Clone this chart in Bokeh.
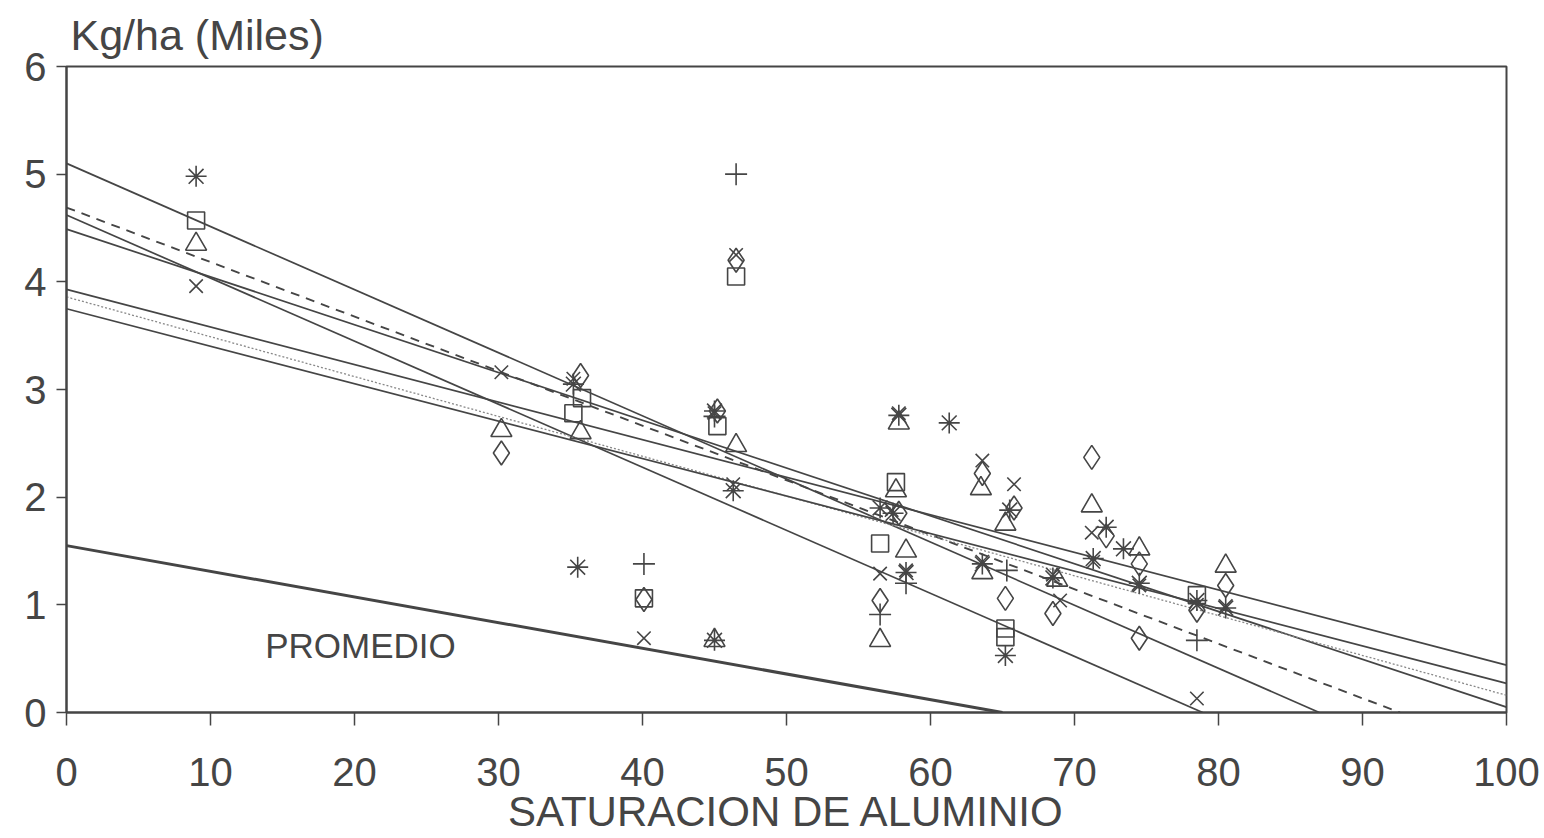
from bokeh.plotting import figure
from bokeh.models import Range1d, Label, FixedTicker
from bokeh.embed import file_html
from bokeh.resources import INLINE

# ---------------- data ----------------
x_ticks = [0, 10, 20, 30, 40, 50, 60, 70, 80, 90, 100]
y_ticks = [0, 1, 2, 3, 4, 5, 6]

ast_x = [9, 35.2, 35.5, 45.0, 45.0, 46.3, 56.5, 57.8, 57.4, 58.3, 61.3, 63.6, 65.5, 65.2, 68.5, 72.2, 71.3, 73.4, 74.5, 78.5, 80.5]
ast_y = [4.98, 3.05, 1.35, 2.80, 0.67, 2.06, 1.90, 2.76, 1.85, 1.30, 2.69, 1.38, 1.88, 0.53, 1.25, 1.72, 1.43, 1.52, 1.20, 1.04, 0.97]

plus_x = [46.5, 40.1, 45.0, 56.5, 58.3, 65.3, 78.5]
plus_y = [5.00, 1.38, 2.75, 0.91, 1.20, 1.32, 0.67]

diam_x = [30.2, 35.7, 40.1, 45.2, 46.5, 56.5, 57.8, 63.6, 65.2, 65.8, 68.5, 71.2, 72.2, 74.5, 74.5, 78.5, 80.5]
diam_y = [2.41, 3.13, 1.05, 2.80, 4.20, 1.04, 1.85, 2.22, 1.06, 1.90, 0.92, 2.37, 1.64, 0.69, 1.38, 0.95, 1.18]

tri_x = [9, 30.2, 35.7, 45.0, 46.5, 56.5, 57.8, 57.6, 58.3, 63.5, 63.6, 65.2, 68.8, 71.2, 74.5, 80.5]
tri_y = [4.35, 2.62, 2.60, 0.67, 2.48, 0.67, 2.69, 2.06, 1.50, 2.08, 1.30, 1.75, 1.23, 1.92, 1.52, 1.36]

sq_x = [9, 35.2, 35.8, 40.1, 45.2, 46.5, 56.5, 57.6, 65.2, 65.2, 78.5]
sq_y = [4.57, 2.78, 2.92, 1.06, 2.66, 4.05, 1.57, 2.14, 0.78, 0.70, 1.09]

xm_x = [9, 30.2, 35.2, 40.1, 45.0, 46.5, 46.3, 56.5, 57.8, 57.3, 58.3, 63.6, 63.6, 65.8, 68.5, 69.0, 71.2, 71.3, 74.5, 78.5, 78.5, 80.5]
xm_y = [3.96, 3.16, 3.10, 0.69, 2.78, 4.25, 2.12, 1.29, 2.78, 1.88, 1.32, 2.34, 1.40, 2.12, 1.28, 1.04, 1.67, 1.40, 1.18, 1.00, 0.13, 0.99]

# regression lines: start (x, y) and end (x, y)
line_x0 = [0, 0, 0, 0, 0, 0, 0, 0]
line_y0 = [5.10, 4.69, 4.62, 4.49, 3.93, 3.86, 3.75, 1.55]
line_x1 = [87.0, 92.6, 78.9, 100, 100, 100, 100, 65.0]
line_y1 = [0, 0, 0, 0.05, 0.44, 0.16, 0.27, 0]

promedio_label = "PROMEDIO"
x_title = "SATURACION DE ALUMINIO"
y_title = "Kg/ha (Miles)"

# ---------------- figure ----------------
INK = "#454545"
FONT = "Liberation Sans"

p = figure(frame_width=1440, frame_height=646,
           x_range=Range1d(0, 100), y_range=Range1d(0, 6),
           output_backend="svg", toolbar_location=None,
           min_border_left=66, min_border_right=38,
           min_border_top=66, min_border_bottom=126,
           background_fill_color="white", border_fill_color="white")

p.title.text = y_title
p.title.align = "left"
p.title.offset = 4
p.title.standoff = 16
p.title.text_font = FONT
p.title.text_font_size = "43px"
p.title.text_font_style = "normal"
p.title.text_color = INK

p.grid.visible = False
p.outline_line_color = INK
p.outline_line_width = 2

for ax in (p.xaxis, p.yaxis):
    ax.axis_line_color = INK
    ax.axis_line_width = 2
    ax.major_tick_line_color = INK
    ax.major_tick_line_width = 1.5
    ax.major_tick_in = 0
    ax.minor_tick_line_color = None
    ax.major_label_text_font = FONT
    ax.major_label_text_font_size = "40px"
    ax.major_label_text_color = INK
    ax.axis_label_text_font = FONT
    ax.axis_label_text_font_style = "normal"
    ax.axis_label_text_color = INK

p.xaxis.ticker = FixedTicker(ticks=x_ticks)
p.yaxis.ticker = FixedTicker(ticks=y_ticks)
p.xaxis.major_tick_out = 13
p.yaxis.major_tick_out = 10
p.xaxis.major_label_standoff = 32
p.yaxis.major_label_standoff = 10
p.xaxis.axis_label = x_title
p.xaxis.axis_label_text_font_size = "42px"
p.xaxis.axis_label_standoff = -1

# lines
styles = [
    dict(line_dash="solid", line_width=1.7, line_color=INK),
    dict(line_dash="9 7", line_width=1.9, line_color=INK),
    dict(line_dash="solid", line_width=1.7, line_color=INK),
    dict(line_dash="solid", line_width=1.7, line_color=INK),
    dict(line_dash="solid", line_width=1.7, line_color=INK),
    dict(line_dash="2 2", line_width=1.3, line_color="#888888"),
    dict(line_dash="solid", line_width=1.7, line_color=INK),
    dict(line_dash="solid", line_width=3, line_color=INK),
]
for i in range(len(line_y0)):
    p.line([line_x0[i], line_x1[i]], [line_y0[i], line_y1[i]], **styles[i])

# markers
mk = dict(line_color=INK, fill_alpha=0, line_width=1.6)
p.scatter(ast_x, ast_y, marker="asterisk", size=21, **mk)
p.scatter(plus_x, plus_y, marker="cross", size=22, **mk)
p.scatter(diam_x, diam_y, marker="diamond", size=24, **mk)
p.scatter(tri_x, tri_y, marker="triangle", size=21, **mk)
p.scatter(sq_x, sq_y, marker="square", size=17, **mk)
p.scatter(xm_x, xm_y, marker="x", size=19, **mk)

p.add_layout(Label(x=13.8, y=0.62, text=promedio_label, text_font=FONT,
                   text_font_size="35px", text_color=INK,
                   text_baseline="middle", text_align="left"))

open("out.html", "w").write(file_html(p, INLINE))
